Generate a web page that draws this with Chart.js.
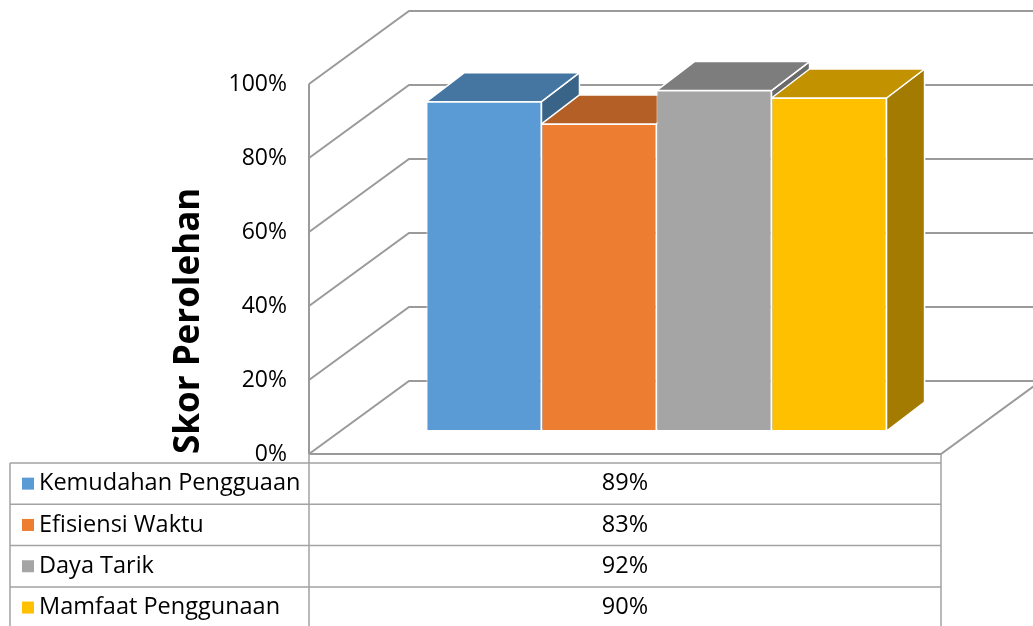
<!DOCTYPE html>
<html>
<head>
<meta charset="utf-8">
<script src="https://cdn.jsdelivr.net/npm/chart.js@4.4.1/dist/chart.umd.min.js"></script>
<style>
  html, body { margin: 0; padding: 0; background: #fff; }
  #wrap { width: 1033px; height: 626px; position: relative; }
</style>
</head>
<body>
<div id="wrap"><canvas id="graph"></canvas></div>
<script>
// Data
const categories = ['Kemudahan Pengguaan', 'Efisiensi Waktu', 'Daya Tarik', 'Mamfaat Penggunaan'];
const scores = [0.89, 0.83, 0.92, 0.90];
const yTicks = [0, 0.2, 0.4, 0.6, 0.8, 1.0];
const axisTitle = 'Skor Perolehan';

const colors = ['#5B9BD5', '#ED7D31', '#A5A5A5', '#FFC000'];
const FONT = 'Open Sans';

// 3D look
const WALL = { dx: 100, dy: 73 };       // depth of the box (back wall offset)
const BAR_POS = { dx: 31.5, dy: 23 };   // where bar fronts sit inside the box
const BAR_DEPTH = { dx: 38, dy: 29 };   // depth of each bar

const pct = v => Math.round(v * 100) + '%';

const shade = (hex, k) => {
    const n = parseInt(hex.slice(1), 16);
    const r = Math.round(((n >> 16) & 255) * k);
    const g = Math.round(((n >> 8) & 255) * k);
    const b = Math.round((n & 255) * k);
    return `rgb(${r},${g},${b})`;
};

const poly = (ctx, pts, fill) => {
    ctx.beginPath();
    ctx.moveTo(pts[0][0], pts[0][1]);
    pts.slice(1).forEach(p => ctx.lineTo(p[0], p[1]));
    ctx.closePath();
    ctx.fillStyle = fill;
    ctx.fill();
    ctx.stroke();
};

const box3d = {
    id: 'box3d',
    beforeDatasetsDraw(chart) {
        const { ctx, chartArea: a, scales: { y } } = chart;
        ctx.save();

        // walls and floor
        ctx.strokeStyle = '#9a9a9a';
        ctx.lineWidth = 2;
        ctx.beginPath();
        ctx.moveTo(a.left, a.top);
        ctx.lineTo(a.left, a.bottom);
        yTicks.forEach(v => {
            const py = y.getPixelForValue(v);
            ctx.moveTo(a.left, py);
            ctx.lineTo(a.left + WALL.dx, py - WALL.dy);
            ctx.lineTo(a.right + WALL.dx, py - WALL.dy);
        });
        ctx.moveTo(a.left, a.bottom);
        ctx.lineTo(a.right, a.bottom);
        ctx.lineTo(a.right + WALL.dx, a.bottom - WALL.dy);
        ctx.stroke();

        // side and top faces of each bar
        ctx.strokeStyle = '#fff';
        ctx.lineWidth = 1.5;
        ctx.lineJoin = 'round';
        chart.data.datasets.forEach((ds, i) => {
            const el = chart.getDatasetMeta(i).data[0];
            const x0 = el.x - el.width / 2 + BAR_POS.dx;
            const x1 = el.x + el.width / 2 + BAR_POS.dx;
            const yt = el.y - BAR_POS.dy;
            const yb = el.base - BAR_POS.dy;
            const dx = BAR_DEPTH.dx, dy = BAR_DEPTH.dy;
            poly(ctx, [[x1, yt], [x1 + dx, yt - dy], [x1 + dx, yb - dy], [x1, yb]], shade(colors[i], 0.64));
            poly(ctx, [[x0, yt], [x0 + dx, yt - dy], [x1 + dx, yt - dy], [x1, yt]], shade(colors[i], 0.76));
        });

        // fronts are drawn by Chart.js, shifted into the box
        ctx.translate(BAR_POS.dx, -BAR_POS.dy);
    },
    afterDatasetsDraw(chart) {
        chart.ctx.restore();
    },
    afterDraw(chart) {
        // data table under the chart
        const { ctx, chartArea: a } = chart;
        const top = 463, rowH = 41.3, left = 10;
        const n = categories.length;
        ctx.save();
        ctx.fillStyle = '#fff';
        ctx.fillRect(left, top, a.right - left, rowH * n);
        ctx.strokeStyle = '#a3a3a3';
        ctx.lineWidth = 1.5;
        ctx.beginPath();
        for (let i = 0; i <= n; i++) {
            ctx.moveTo(left, top + i * rowH);
            ctx.lineTo(a.right, top + i * rowH);
        }
        ctx.moveTo(left, top);
        ctx.lineTo(left, top + rowH * n);
        ctx.moveTo(a.left, a.bottom);
        ctx.lineTo(a.left, top + rowH * n);
        ctx.moveTo(a.right, a.bottom);
        ctx.lineTo(a.right, top + rowH * n);
        ctx.stroke();

        ctx.font = `23.5px "${FONT}"`;
        ctx.textBaseline = 'middle';
        categories.forEach((c, i) => {
            const cy = top + i * rowH + rowH / 2;
            ctx.fillStyle = colors[i];
            ctx.fillRect(22, cy - 6, 12, 12);
            ctx.fillStyle = '#000';
            ctx.textAlign = 'left';
            ctx.fillText(c, 39, cy);
            ctx.textAlign = 'center';
            ctx.fillText(pct(scores[i]), (a.left + a.right) / 2, cy);
        });
        ctx.restore();
    }
};

const ctx = document.getElementById('graph').getContext('2d');
const scoreChart = new Chart(ctx, {
    type: 'bar',
    data: {
        labels: [''],
        datasets: categories.map((c, i) => ({
            label: c,
            data: [scores[i]],
            backgroundColor: colors[i],
            borderColor: '#fff',
            borderWidth: 1,
            borderSkipped: false
        }))
    },
    options: {
        responsive: true,
        maintainAspectRatio: false,
        animation: false,
        datasets: {
            bar: { categoryPercentage: 0.728, barPercentage: 1 }
        },
        layout: {
            padding: { left: 0, right: 92, top: 84, bottom: 172 }
        },
        scales: {
            x: { display: false },
            y: {
                min: 0,
                max: 1,
                afterFit(s) { s.width = 309; },
                afterBuildTicks(s) { s.ticks = yTicks.map(v => ({ value: v })); },
                grid: { display: false, drawTicks: false },
                border: { display: false },
                ticks: {
                    padding: 22,
                    color: '#000',
                    font: { family: FONT, size: 23 },
                    callback: v => pct(v)
                },
                title: {
                    display: true,
                    text: axisTitle,
                    align: 'start',
                    color: '#000',
                    font: { family: FONT, size: 35, weight: 'bold' },
                    padding: { top: 168, bottom: 0 }
                }
            }
        },
        plugins: {
            legend: { display: false },
            tooltip: { enabled: false }
        }
    },
    plugins: [box3d]
});
</script>
</body>
</html>
